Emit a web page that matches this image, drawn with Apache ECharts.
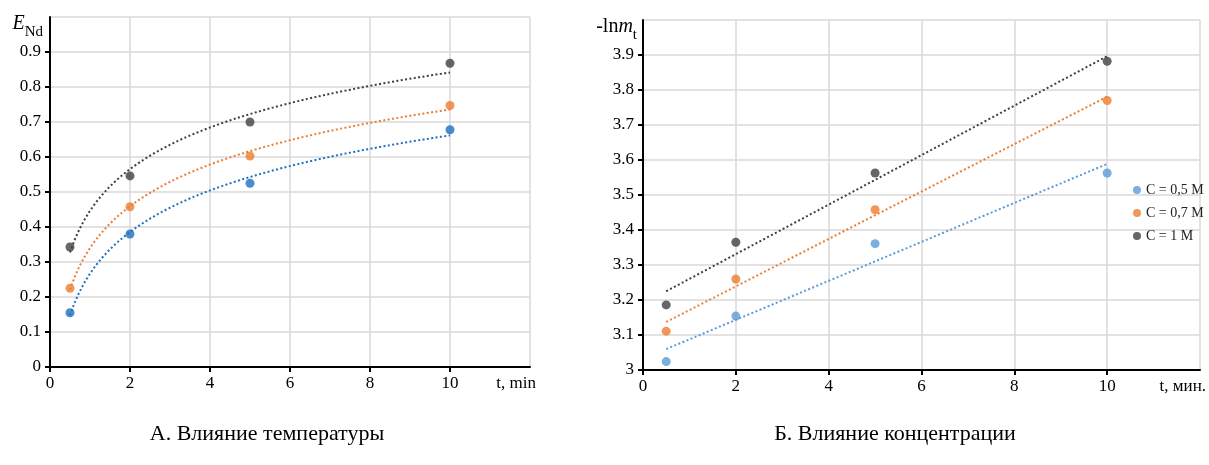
<!DOCTYPE html>
<html>
<head>
<meta charset="utf-8">
<script src="https://cdn.jsdelivr.net/npm/echarts@6/dist/echarts.min.js"></script>
<style>
  html, body { margin: 0; padding: 0; background: #fff; }
  #chart { width: 1209px; height: 465px; }
</style>
</head>
<body>
<div id="chart"></div>
<script>
// Sampling times, minutes
const times = [0.5, 2, 5, 10];

// Panel A: Nd extraction degree for three temperatures
const extLow  = [0.155, 0.380, 0.525, 0.678];
const extMid  = [0.225, 0.458, 0.603, 0.747];
const extHigh = [0.343, 0.546, 0.700, 0.868];

// Panel B: -ln m_t for three acid concentrations
const concNames = ['C = 0,5 M', 'C = 0,7 M', 'C = 1 M'];
const lnM05 = [3.024, 3.154, 3.361, 3.563];
const lnM07 = [3.111, 3.260, 3.458, 3.770];
const lnM10 = [3.186, 3.365, 3.563, 3.882];

// Captions under the panels
const captions = ['А. Влияние температуры', 'Б. Влияние концентрации'];

const colBlueA = '#1f6fc2';
const colBlueB = '#5b9bd5';
const colOrange = '#ed7d31';
const colGray = '#404040';
const serif = '"Liberation Serif", "DejaVu Serif", serif';

// least-squares fit y = a + b*f(x)
function fit(xs, ys, f) {
  const u = xs.map(f);
  const n = u.length;
  const mu = u.reduce((s, v) => s + v, 0) / n;
  const my = ys.reduce((s, v) => s + v, 0) / n;
  let sxy = 0, sxx = 0;
  for (let i = 0; i < n; i++) { sxy += (u[i] - mu) * (ys[i] - my); sxx += (u[i] - mu) * (u[i] - mu); }
  const b = sxy / sxx;
  const a = my - b * mu;
  return x => a + b * f(x);
}
// logarithmic trend curve sampled over the measured range
function logTrend(ys) {
  const g = fit(times, ys, Math.log);
  const pts = [];
  const x0 = times[0], x1 = times[times.length - 1];
  for (let i = 0; i <= 80; i++) { const x = x0 + (x1 - x0) * i / 80; pts.push([x, g(x)]); }
  return pts;
}
// linear trend line over the measured range
function linTrend(ys) {
  const g = fit(times, ys, x => x);
  const x0 = times[0], x1 = times[times.length - 1];
  return [[x0, g(x0)], [x1, g(x1)]];
}
const pairs = ys => times.map((t, i) => [t, ys[i]]);

function scatter(name, ys, color, idx) {
  return { name, type: 'scatter', xAxisIndex: idx, yAxisIndex: idx, data: pairs(ys),
    symbolSize: 9, itemStyle: { color }, z: 5 };
}
function trend(data, color, idx) {
  return { type: 'line', xAxisIndex: idx, yAxisIndex: idx, data, showSymbol: false, symbol: 'none',
    lineStyle: { color, width: 2, type: [2, 2.4], cap: 'butt' }, z: 3, silent: true };
}

function xAxis(idx, name) {
  return {
    gridIndex: idx, type: 'value', min: 0, max: 12, interval: 2,
    name, nameLocation: 'end', nameGap: 6,
    nameTextStyle: { fontFamily: serif, fontSize: 17, color: '#000', align: 'right', verticalAlign: 'top', padding: [8, 0, 0, 0] },
    axisLine: { lineStyle: { color: '#000', width: 2 } },
    axisTick: { show: true, length: 5, lineStyle: { color: '#000', width: 2 } },
    axisLabel: { fontFamily: serif, fontSize: 17, color: '#000', margin: 8, showMaxLabel: false },
    splitLine: { show: true, lineStyle: { color: '#d9d9d9', width: 1.5 } }
  };
}
function yAxis(idx, min, max, name, rich, pad) {
  return {
    gridIndex: idx, type: 'value', min, max, interval: 0.1,
    name, nameLocation: 'end', nameGap: -10,
    nameTextStyle: { align: 'right', verticalAlign: 'middle', padding: pad, rich },
    axisLine: { show: true, lineStyle: { color: '#000', width: 2 } },
    axisTick: { show: true, length: 5, lineStyle: { color: '#000', width: 2 } },
    axisLabel: { fontFamily: serif, fontSize: 17, color: '#000', margin: 9, showMaxLabel: false },
    splitLine: { show: true, lineStyle: { color: '#d9d9d9', width: 1.5 } }
  };
}

const richE = {
  e: { fontFamily: serif, fontSize: 20, fontStyle: 'italic', color: '#000', verticalAlign: 'top', padding: [0, 0, 6, 0] },
  s: { fontFamily: serif, fontSize: 15, color: '#000', verticalAlign: 'bottom', lineHeight: 15 }
};
const richM = {
  n: { fontFamily: serif, fontSize: 20, color: '#000', verticalAlign: 'top', padding: [0, 0, 6, 0] },
  e: { fontFamily: serif, fontSize: 20, fontStyle: 'italic', color: '#000', verticalAlign: 'top', padding: [0, 0, 6, 0] },
  s: { fontFamily: serif, fontSize: 15, color: '#000', verticalAlign: 'bottom', lineHeight: 15 }
};

const chart = echarts.init(document.getElementById('chart'), null, { renderer: 'canvas' });
chart.setOption({
  animation: false,
  backgroundColor: '#fff',
  grid: [
    { left: 50, top: 17, width: 480, height: 350 },
    { left: 643, top: 20, width: 564, height: 350 }
  ],
  xAxis: [xAxis(0, 't, min'), xAxis(1, 't, мин.')],
  yAxis: [
    yAxis(0, 0, 1, '{e|E}{s|Nd}', richE, [0, 7, 0, 0]),
    yAxis(1, 3, 4, '{n|-ln}{e|m}{s|t}', richM, [0, 6, 0, 0])
  ],
  legend: {
    data: concNames, orient: 'vertical', left: 1128, top: 178,
    icon: 'circle', itemWidth: 8, itemHeight: 8, itemGap: 9,
    textStyle: { fontFamily: serif, fontSize: 14, color: '#222', lineHeight: 14 }
  },
  series: [
    trend(logTrend(extLow), colBlueA, 0),
    trend(logTrend(extMid), colOrange, 0),
    trend(logTrend(extHigh), colGray, 0),
    scatter('A1', extLow, colBlueA, 0),
    scatter('A2', extMid, colOrange, 0),
    scatter('A3', extHigh, colGray, 0),
    trend(linTrend(lnM05), colBlueB, 1),
    trend(linTrend(lnM07), colOrange, 1),
    trend(linTrend(lnM10), colGray, 1),
    scatter(concNames[0], lnM05, colBlueB, 1),
    scatter(concNames[1], lnM07, colOrange, 1),
    scatter(concNames[2], lnM10, colGray, 1)
  ],
  graphic: [
    { type: 'text', style: { text: captions[0], x: 267, y: 434, align: 'center', verticalAlign: 'middle', font: '22px ' + serif, fill: '#000' } },
    { type: 'text', style: { text: captions[1], x: 895, y: 434, align: 'center', verticalAlign: 'middle', font: '22px ' + serif, fill: '#000' } }
  ]
});
</script>
</body>
</html>
